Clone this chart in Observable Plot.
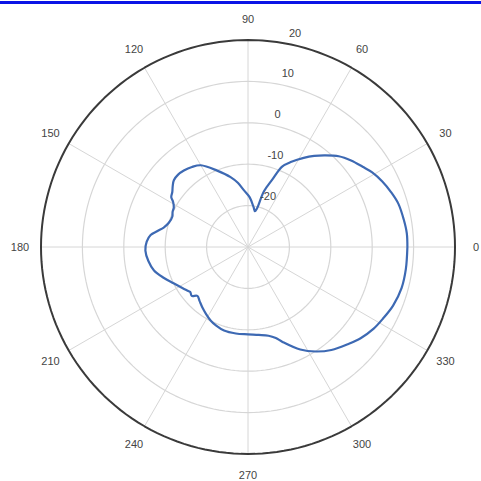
<!DOCTYPE html>
<html>
<head>
<meta charset="utf-8">
<script src="https://cdn.jsdelivr.net/npm/d3@7"></script>
<script src="https://cdn.jsdelivr.net/npm/@observablehq/plot@0.6"></script>
<style>
  body { margin: 0; background: #fff; }
  #wrap { position: relative; width: 481px; height: 481px; }
  #band { position: absolute; left: 0; top: 1px; width: 481px; height: 3px; background: #0a14e6; }
  svg { display: block; }
</style>
</head>
<body>
<div id="wrap"><div id="band"></div></div>
<script>
// Radiation pattern: azimuth angle (degrees) and gain (dB)
const angles = [0, 5, 10, 16, 21, 26, 31, 35, 40, 45, 50, 54, 58, 63, 67, 70, 74, 77, 79, 82, 88, 94, 99, 104, 112, 120, 125, 130, 134, 138, 141, 144, 147, 149, 152, 155, 158, 163, 167, 170, 173, 177, 182, 188, 194, 200, 206, 212, 216, 218, 221, 224, 228, 233, 238, 243, 248, 254, 262, 270, 277, 283, 287, 290, 297, 303, 309, 316, 321, 327, 332, 338, 345, 352, 360];
const gains  = [8.5, 8.5, 8.2, 7.8, 7.0, 6.1, 5.0, 3.8, 2.5, 1.0, -1.1, -2.8, -4.6, -6.9, -8.9, -12.5, -16.0, -20.5, -21.2, -20.3, -18.0, -16.3, -14.3, -12.6, -10.1, -7.2, -6.4, -5.9, -5.7, -5.9, -6.6, -7.4, -7.9, -8.9, -9.7, -9.9, -10.3, -10.0, -9.1, -7.8, -6.3, -5.5, -5.2, -5.7, -6.6, -8.3, -10.0, -11.3, -12.0, -12.3, -12.0, -13.0, -12.5, -11.7, -10.9, -10.1, -9.5, -9.0, -8.9, -8.9, -8.6, -8.0, -7.0, -5.6, -2.2, 0.1, 2.0, 3.7, 5.0, 6.2, 6.9, 7.8, 8.4, 8.5, 8.5];

// Radial axis (dB) and angular axis (degrees)
const rMin = -30, rMax = 20;
const ringTicks = [-20, -10, 0, 10, 20];
const spokeAngles = [0, 30, 60, 90, 120, 150, 180, 210, 240, 270, 300, 330];
const rLabelAngle = 80;

const W = 481, H = 481;
const cx = 247.5, cy = 246.5;           // pole position in the frame
const outerPx = 207;                     // outer ring radius
const k = outerPx / (rMax - rMin);       // pixels per dB
const span = rMax - rMin;
const labelR = 228 / k;                  // angular labels sit just outside the frame

const rad = d => d * Math.PI / 180;
const polar = (deg, u) => [u * Math.cos(rad(deg)), u * Math.sin(rad(deg))];

// ring polylines
const ringRows = [];
for (const t of ringTicks) {
  for (let a = 0; a <= 360; a += 2) {
    const [x, y] = polar(a, t - rMin);
    ringRows.push({ring: t, x, y});
  }
}
const innerRings = ringRows.filter(d => d.ring < rMax);
const outerRing = ringRows.filter(d => d.ring === rMax);

const spokes = spokeAngles.map(a => {
  const [x2, y2] = polar(a, span);
  return {x1: 0, y1: 0, x2, y2};
});

const pattern = angles.map((a, i) => {
  const [x, y] = polar(a, gains[i] - rMin);
  return {x, y};
});

const chart = Plot.plot({
  width: W,
  height: H,
  margin: 0,
  x: {domain: [-cx / k, (W - cx) / k], axis: null},
  y: {domain: [-(H - cy) / k, cy / k], axis: null},
  style: {background: "#fff", fontFamily: "'Liberation Sans', Arial, sans-serif"},
  marks: [
    Plot.link(spokes, {x1: "x1", y1: "y1", x2: "x2", y2: "y2", stroke: "#d6d6d6", strokeWidth: 1}),
    Plot.line(innerRings, {x: "x", y: "y", z: "ring", stroke: "#d6d6d6", strokeWidth: 1.2}),
    Plot.line(outerRing, {x: "x", y: "y", stroke: "#3a3a3a", strokeWidth: 2}),
    Plot.line(pattern, {x: "x", y: "y", stroke: "#3d69b3", strokeWidth: 2.2, curve: "catmull-rom"}),
    Plot.text(spokeAngles, {
      x: a => polar(a, labelR)[0],
      y: a => polar(a, labelR)[1],
      text: a => String(a),
      fill: "#444",
      fontSize: 11
    }),
    Plot.text(ringTicks, {
      x: t => polar(rLabelAngle, t - rMin)[0],
      y: t => polar(rLabelAngle, t - rMin)[1],
      text: t => String(t),
      textAnchor: "start",
      dx: 5,
      dy: -10,
      fill: "#444",
      fontSize: 11
    })
  ]
});

document.getElementById("wrap").prepend(chart);
</script>
</body>
</html>
